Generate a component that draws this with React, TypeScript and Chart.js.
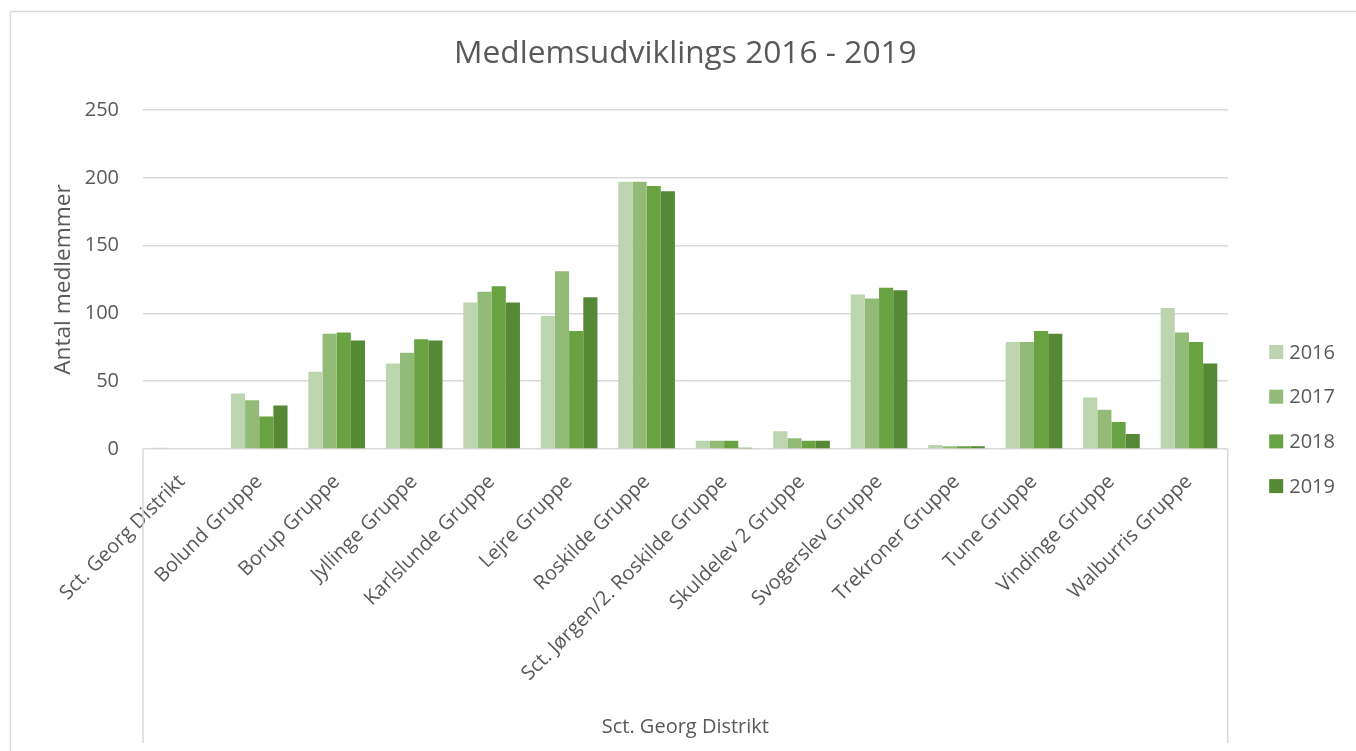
import React, { useEffect, useRef } from "react";
import { Chart, registerables } from "chart.js";

Chart.register(...registerables);

const categories = [
  "Sct. Georg Distrikt",
  "Bolund Gruppe",
  "Borup Gruppe",
  "Jyllinge Gruppe",
  "Karlslunde Gruppe",
  "Lejre Gruppe",
  "Roskilde Gruppe",
  "Sct. Jørgen/2. Roskilde Gruppe",
  "Skuldelev 2 Gruppe",
  "Svogerslev Gruppe",
  "Trekroner Gruppe",
  "Tune Gruppe",
  "Vindinge Gruppe",
  "Walburris Gruppe",
];
const seriesLabels = ["2016", "2017", "2018", "2019"];
const values2016 = [1, 41, 57, 63, 108, 98, 197, 6, 13, 114, 3, 79, 38, 104];
const values2017 = [0.5, 36, 85, 71, 116, 131, 197, 6, 8, 111, 2, 79, 29, 86];
const values2018 = [0.5, 24, 86, 81, 120, 87, 194, 6, 6, 119, 2, 87, 20, 79];
const values2019 = [0.5, 32, 80, 80, 108, 112, 190, 1, 6, 117, 2, 85, 11, 63];
const seriesColors = ["#bdd5af", "#93bb78", "#69a241", "#568936"];
const chartTitle = "Medlemsudviklings 2016 - 2019";
const yAxisTitle = "Antal medlemmer";
const xAxisGroupTitle = "Sct. Georg Distrikt";
const yMin = 0;
const yMax = 250;
const yStep = 50;

const FONT = "'Open Sans', 'Noto Sans', sans-serif";
const TEXT = "#595959";
const LINE = "#d9d9d9";

const framePlugin = {
  id: "frame",
  beforeDraw(chart: any) {
    const { ctx } = chart;
    ctx.save();
    ctx.strokeStyle = LINE;
    ctx.lineWidth = 1.5;
    ctx.strokeRect(10.5, 11.5, 1400, 800);
    ctx.restore();
  },
  afterDraw(chart: any) {
    const { ctx, chartArea } = chart;
    const xs = chart.scales.x;
    ctx.save();
    // category group box lines
    ctx.strokeStyle = LINE;
    ctx.lineWidth = 1.5;
    ctx.beginPath();
    ctx.moveTo(chartArea.left, chartArea.bottom);
    ctx.lineTo(chartArea.left, xs.bottom);
    ctx.moveTo(chartArea.right, chartArea.bottom);
    ctx.lineTo(chartArea.right, xs.bottom);
    ctx.stroke();

    // chart title, centred over the plot area
    ctx.fillStyle = TEXT;
    ctx.font = `31.7px ${FONT}`;
    ctx.textAlign = "center";
    ctx.textBaseline = "middle";
    ctx.fillText(chartTitle, (chartArea.left + chartArea.right) / 2, chartArea.top - 56);

    // legend
    const ds = chart.data.datasets;
    const boxX = chartArea.right + 41.5;
    const startY = 352;
    const step = 44.7;
    ctx.font = `20px ${FONT}`;
    ctx.textBaseline = "middle";
    ctx.textAlign = "left";
    ds.forEach((d: any, i: number) => {
      const cy = startY + i * step;
      ctx.fillStyle = d.backgroundColor;
      ctx.fillRect(boxX, cy - 7, 14, 14);
      ctx.fillStyle = TEXT;
      ctx.fillText(d.label, boxX + 20, cy + 1);
    });
    ctx.restore();
  },
};

export default function App() {
  const ref = useRef<HTMLCanvasElement>(null);
  useEffect(() => {
    if (!ref.current) return;
    const allValues = [values2016, values2017, values2018, values2019];
    const chart = new Chart(ref.current, {
      type: "bar",
      data: {
        labels: categories,
        datasets: seriesLabels.map((l, i) => ({
          label: l,
          data: allValues[i],
          backgroundColor: seriesColors[i],
          borderWidth: 0,
          categoryPercentage: 0.731,
          barPercentage: 1,
        })),
      },
      options: {
        responsive: false,
        animation: false,
        layout: { padding: { left: 0, right: 128.3, top: 110, bottom: 8 } },
        plugins: {
          legend: { display: false },
          tooltip: { enabled: false },
          title: { display: false },
        },
        scales: {
          x: {
            grid: { display: false, drawTicks: false },
            border: { display: false },
            ticks: {
              autoSkip: false,
              maxRotation: 45,
              minRotation: 45,
              padding: 21,
              color: TEXT,
              font: { family: FONT, size: 20 },
            },
            title: {
              display: true,
              text: xAxisGroupTitle,
              color: TEXT,
              font: { family: FONT, size: 20 },
              padding: { top: 0, bottom: 4 },
            },
            afterFit: (s: any) => {
              s.height = 294;
            },
          },
          y: {
            min: yMin,
            max: yMax,
            grid: { color: LINE, lineWidth: 1.5, drawTicks: false },
            border: { display: false },
            ticks: {
              stepSize: yStep,
              padding: 24,
              color: TEXT,
              font: { family: FONT, size: 20 },
            },
            title: {
              display: true,
              text: yAxisTitle,
              color: TEXT,
              font: { family: FONT, size: 22.7 },
              padding: { top: 50, bottom: 0 },
            },
            afterFit: (s: any) => {
              s.width = 143;
            },
          },
        },
      },
      plugins: [framePlugin],
    });
    return () => chart.destroy();
  }, []);
  return (
    <div style={{ position: "absolute", left: 0, top: 0, width: 1356, height: 751, background: "#fff" }}>
      <canvas ref={ref} width={1356} height={751} style={{ display: "block" }} />
    </div>
  );
}
